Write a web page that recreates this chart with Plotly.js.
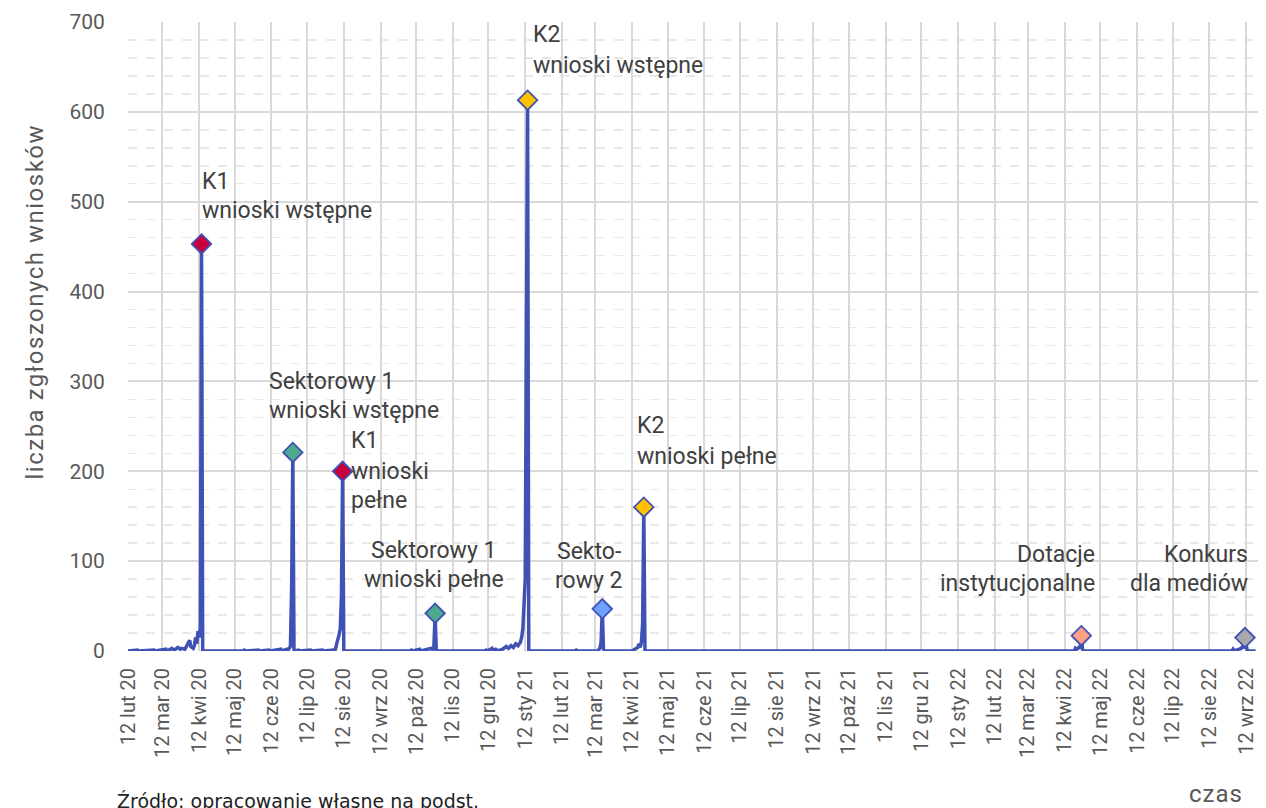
<!DOCTYPE html>
<html><head><meta charset="utf-8">
<script src="https://cdn.plot.ly/plotly-3.0.1.min.js"></script>
<style>
html,body{margin:0;padding:0;background:#fff}
#chart{width:1266px;height:808px}
#chart g.annotation[data-index="19"] text.annotation-text{letter-spacing:1.5px}
#chart g.annotation[data-index="20"] text.annotation-text{letter-spacing:1px}
</style>
</head><body><div id="chart"></div>
<script>
// daily number of submitted applications
const dates = [
 '2020-02-12','2020-02-20','2020-02-21','2020-03-05','2020-03-06','2020-03-15','2020-03-16','2020-03-20','2020-03-22',
 '2020-03-25','2020-03-27','2020-03-28','2020-03-31','2020-04-02','2020-04-04','2020-04-05','2020-04-07','2020-04-08',
 '2020-04-09','2020-04-10','2020-04-11','2020-04-12','2020-04-13','2020-04-14','2020-04-15',
 '2020-05-19','2020-05-20','2020-05-21','2020-06-01','2020-06-02','2020-06-10','2020-06-11','2020-06-20','2020-06-21',
 '2020-06-25','2020-06-26','2020-06-27','2020-06-28','2020-06-29','2020-06-30','2020-07-01',
 '2020-07-05','2020-07-06','2020-07-15','2020-07-16','2020-07-25','2020-07-26','2020-08-03','2020-08-04',
 '2020-08-05','2020-08-06','2020-08-07','2020-08-08','2020-08-09','2020-08-10','2020-08-11','2020-08-12',
 '2020-10-07','2020-10-08','2020-10-09','2020-10-15','2020-10-16','2020-10-20','2020-10-22','2020-10-25','2020-10-26',
 '2020-10-27','2020-10-28','2020-10-29',
 '2020-12-09','2020-12-10','2020-12-11','2020-12-15','2020-12-16','2020-12-18','2020-12-20','2020-12-24','2020-12-27',
 '2020-12-29','2020-12-31','2021-01-02','2021-01-04','2021-01-06','2021-01-08','2021-01-09','2021-01-10','2021-01-11',
 '2021-01-12','2021-01-13','2021-01-14','2021-01-15',
 '2021-02-23','2021-02-24','2021-02-25','2021-03-14','2021-03-15','2021-03-16','2021-03-17','2021-03-18','2021-03-19','2021-03-20',
 '2021-04-12','2021-04-13','2021-04-15','2021-04-17','2021-04-18','2021-04-19','2021-04-20','2021-04-21','2021-04-22','2021-04-23',
 '2022-04-20','2022-04-21','2022-04-22','2022-04-24','2022-04-25','2022-04-26','2022-04-27','2022-04-28',
 '2022-08-31','2022-09-01','2022-09-02','2022-09-08','2022-09-09','2022-09-10','2022-09-11','2022-09-12','2022-09-13','2022-09-20'
];
const counts = [
 0,1,0,1,0,2,0,3,1,
 4,2,3,2,8,12,5,3,6,
 15,8,22,15,25,453,0,
 0,1,0,1,0,1,0,2,0,
 2,1,3,5,70,221,0,
 1,0,1,0,1,0,1,0,
 2,8,12,18,25,60,200,0,
 0,1,0,2,0,1,2,3,1,
 5,42,0,
 0,1,0,3,1,2,0,2,5,
 3,6,4,8,6,10,15,25,60,
 80,355,613,0,
 0,1,0,0,2,3,10,47,2,0,
 0,1,3,4,8,4,10,30,160,0,
 0,3,2,4,3,17,2,0,
 0,2,0,3,5,3,15,4,0,0
];

// highlighted peaks (call openings)
const peakDates  = ['2020-04-14','2020-06-30','2020-08-11','2020-10-28','2021-01-14','2021-03-18','2021-04-22','2022-04-26','2022-09-11'];
const peakValues = [453,221,200,42,613,47,160,17,15];
const peakColors = ['#c8003c','#4daa8c','#c8003c','#4daa8c','#ffc000','#6f9fff','#ffc000','#ff9f85','#a9a9a9'];

const tickVals = ['2020-02-12','2020-03-12','2020-04-12','2020-05-12','2020-06-12','2020-07-12','2020-08-12','2020-09-12',
 '2020-10-12','2020-11-12','2020-12-12','2021-01-12','2021-02-12','2021-03-12','2021-04-12','2021-05-12','2021-06-12',
 '2021-07-12','2021-08-12','2021-09-12','2021-10-12','2021-11-12','2021-12-12','2022-01-12','2022-02-12','2022-03-12',
 '2022-04-12','2022-05-12','2022-06-12','2022-07-12','2022-08-12','2022-09-12'];
const tickLabels = ['12 lut 20','12 mar 20','12 kwi 20','12 maj 20','12 cze 20','12 lip 20','12 sie 20','12 wrz 20',
 '12 paź 20','12 lis 20','12 gru 20','12 sty 21','12 lut 21','12 mar 21','12 kwi 21','12 maj 21','12 cze 21',
 '12 lip 21','12 sie 21','12 wrz 21','12 paź 21','12 lis 21','12 gru 21','12 sty 22','12 lut 22','12 mar 22',
 '12 kwi 22','12 maj 22','12 cze 22','12 lip 22','12 sie 22','12 wrz 22'];

const lineColor = '#3f51b5';
const traces = [
 {x: dates, y: counts, type: 'scatter', mode: 'lines', line: {color: lineColor, width: 3.5}, hoverinfo: 'skip'},
 {x: peakDates, y: peakValues, type: 'scatter', mode: 'markers',
  marker: {symbol: 'diamond', size: 15, color: peakColors, line: {color: lineColor, width: 1.8}}, hoverinfo: 'skip'}
];

const F = 'Roboto, Arial, sans-serif';
function lab(text, x, y, xanchor) {
  return {text: text, x: x, y: y, xref: 'x', yref: 'y', xanchor: xanchor, yanchor: 'middle',
          showarrow: false, font: {family: F, size: 23, color: '#404040'}};
}
const annotations = [
  lab('K1', '2020-04-13', 523, 'left'), lab('wnioski wstępne', '2020-04-13', 490, 'left'),
  lab('Sektorowy 1', '2020-06-08', 300, 'left'), lab('wnioski wstępne', '2020-06-08', 268, 'left'),
  lab('K1', '2020-08-16', 234, 'left'), lab('wnioski', '2020-08-16', 200, 'left'), lab('pełne', '2020-08-16', 168, 'left'),
  lab('Sektorowy 1', '2020-10-27', 112, 'center'), lab('wnioski pełne', '2020-10-27', 80, 'center'),
  lab('K2', '2021-01-17', 686, 'left'), lab('wnioski wstępne', '2021-01-17', 652, 'left'),
  lab('Sekto-', '2021-03-07', 111, 'center'), lab('rowy 2', '2021-03-07', 79, 'center'),
  lab('K2', '2021-04-15', 251, 'left'), lab('wnioski pełne', '2021-04-15', 217, 'left'),
  lab('Dotacje', '2022-05-09', 107, 'right'), lab('instytucjonalne', '2022-05-09', 75, 'right'),
  lab('Konkurs', '2022-09-15', 107, 'right'), lab('dla mediów', '2022-09-15', 75, 'right'),
  {text: 'liczba zgłoszonych wniosków', xref: 'paper', yref: 'paper', x: -0.082, y: 0.555, textangle: -90,
   xanchor: 'center', yanchor: 'middle', showarrow: false, font: {family: F, size: 24, color: '#595959'}},
  {text: 'czas', xref: 'paper', yref: 'paper', x: 0.963, y: -0.228, xanchor: 'center', yanchor: 'middle',
   showarrow: false, font: {family: F, size: 24, color: '#595959'}},
  {text: 'Źródło: opracowanie własne na podst.', xref: 'paper', yref: 'paper', x: -0.0115, y: -0.218,
   xanchor: 'left', yanchor: 'top', showarrow: false, font: {family: 'DejaVu Sans, sans-serif', size: 19, color: '#222'}}
];

const layout = {
  width: 1266, height: 808, showlegend: false,
  paper_bgcolor: '#fff', plot_bgcolor: '#fff',
  margin: {l: 128, r: 8, t: 22, b: 157},
  xaxis: {type: 'date', range: ['2020-02-12', '2022-09-22'], tickvals: tickVals, ticktext: tickLabels,
          tickangle: -90, tickfont: {family: F, size: 20, color: '#595959'},
          showgrid: true, gridcolor: '#d9d9d9', gridwidth: 2, zeroline: false, showline: false,
          ticks: 'outside', ticklen: 8, tickcolor: 'rgba(0,0,0,0)'},
  yaxis: {range: [0, 700], dtick: 100, tickfont: {family: F, size: 21, color: '#595959'},
          showgrid: true, gridcolor: '#d9d9d9', gridwidth: 2, zeroline: false, showline: false,
          ticks: 'outside', ticklen: 18, tickcolor: 'rgba(0,0,0,0)',
          minor: {dtick: 20, showgrid: true, gridcolor: '#e8e8e8', gridwidth: 1.5, griddash: 'dash'}},
  annotations: annotations
};
Plotly.newPlot('chart', traces, layout, {staticPlot: true, displayModeBar: false});
</script></body></html>
